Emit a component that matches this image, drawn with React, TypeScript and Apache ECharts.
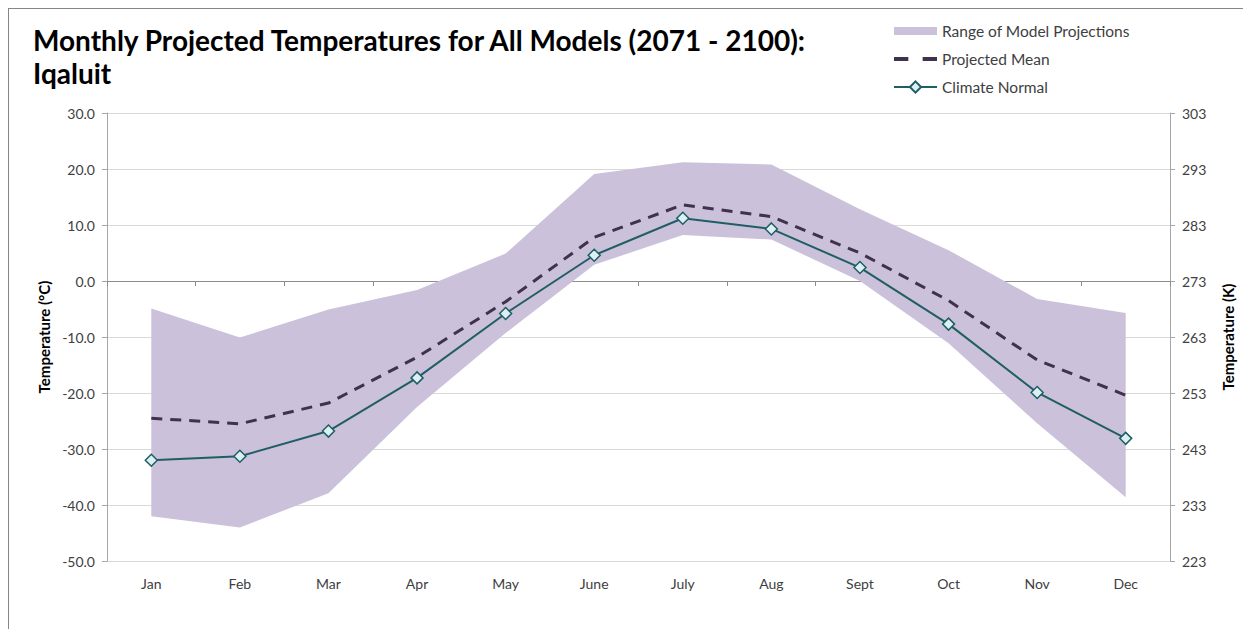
import React, { useEffect, useRef } from "react";
import * as echarts from "echarts";

const months = ["Jan", "Feb", "Mar", "Apr", "May", "June", "July", "Aug", "Sept", "Oct", "Nov", "Dec"];
const rangeLower = [-42.0, -44.0, -37.9, -22.5, -9.3, 2.9, 8.2, 7.4, 0.0, -11.1, -25.4, -38.6];
const rangeUpper = [-4.9, -10.1, -5.1, -1.6, 4.9, 19.1, 21.2, 20.8, 12.8, 5.5, -3.2, -5.7];
const projectedMean = [-24.5, -25.5, -21.8, -13.6, -3.7, 7.8, 13.6, 11.5, 5.0, -3.5, -14.1, -20.4];
const climateNormal = [-32.0, -31.3, -26.8, -17.3, -5.8, 4.6, 11.2, 9.3, 2.4, -7.7, -19.9, -28.1];
const leftTicks = { min: -50, max: 30, interval: 10 };
const kelvinOffset = 273;

const FONT = "Lato";
const TXT = "#404040";

export default function App() {
  const ref = useRef<HTMLDivElement>(null);
  useEffect(() => {
    if (!ref.current) return;
    const chart = echarts.init(ref.current, undefined, { renderer: "svg" });
    const rangeDiff = rangeUpper.map((u, i) => +(u - rangeLower[i]).toFixed(2));
    chart.setOption({
      animation: false,
      textStyle: { fontFamily: FONT },
      title: {
        text: "Monthly Projected Temperatures for All Models (2071 - 2100):\nIqaluit",
        left: 19,
        top: 9,
        textStyle: { fontFamily: FONT, fontSize: 28, fontWeight: "bold", color: "#000", lineHeight: 33 },
      },
      legend: {
        orient: "vertical",
        left: 879,
        top: 9,
        itemWidth: 43,
        itemHeight: 14,
        itemGap: 12,
        textStyle: { fontFamily: FONT, fontSize: 15.5, color: TXT },
        data: [
          { name: "Range of Model Projections", icon: "path://M0,0h43v8h-43z" },
          { name: "Projected Mean", icon: "path://M0,0h12v3.2h-12z M24,0h12v3.2h-12z" },
          { name: "Climate Normal" },
        ],
      },
      grid: { left: 98, top: 104, width: 1063, height: 448 },
      xAxis: [
        {
          type: "category",
          data: months,
          position: "bottom",
          axisLine: { show: false, onZero: false },
          axisTick: { show: false },
          axisLabel: { margin: 15, fontSize: 14, color: TXT, fontFamily: FONT },
        },
        {
          type: "category",
          data: months,
          position: "top",
          axisLine: { show: true, onZero: true, lineStyle: { color: "#8c8c8c", width: 1 } },
          axisTick: { show: true, inside: true, length: 5, lineStyle: { color: "#8c8c8c" } },
          axisLabel: { show: false },
        },
      ],
      yAxis: [
        {
          type: "value",
          min: leftTicks.min,
          max: leftTicks.max,
          interval: leftTicks.interval,
          position: "left",
          name: "Temperature (°C)",
          nameLocation: "middle",
          nameGap: 55,
          nameTextStyle: { fontFamily: FONT, fontSize: 15, fontWeight: "bold", color: "#000" },
          axisLine: { show: true, lineStyle: { color: "#a6a6a6" } },
          axisTick: { show: true, length: 5, lineStyle: { color: "#a6a6a6" } },
          axisLabel: { margin: 12, fontSize: 14, color: TXT, fontFamily: FONT, formatter: (v: number) => v.toFixed(1) },
          splitLine: { show: true, lineStyle: { color: "#d9d9d9", width: 1 } },
        },
        {
          type: "value",
          min: leftTicks.min,
          max: leftTicks.max,
          interval: leftTicks.interval,
          position: "right",
          name: "Temperature (K)",
          nameLocation: "middle",
          nameGap: 50,
          nameTextStyle: { fontFamily: FONT, fontSize: 15, fontWeight: "bold", color: "#000" },
          axisLine: { show: true, lineStyle: { color: "#a6a6a6" } },
          axisTick: { show: true, length: 5, lineStyle: { color: "#a6a6a6" } },
          axisLabel: { margin: 12, fontSize: 14, color: TXT, fontFamily: FONT, formatter: (v: number) => String(v + kelvinOffset) },
          splitLine: { show: false },
        },
      ],
      series: [
        {
          name: "rangeLow",
          type: "line",
          data: rangeLower,
          stack: "range",
          stackStrategy: "all",
          symbol: "none",
          lineStyle: { opacity: 0 },
          silent: true,
          z: 1,
        },
        {
          name: "Range of Model Projections",
          type: "line",
          data: rangeDiff,
          stack: "range",
          stackStrategy: "all",
          symbol: "none",
          color: "#ccc1da",
          itemStyle: { color: "#ccc1da" },
          lineStyle: { width: 0, opacity: 0 },
          areaStyle: { color: "#ccc1da", opacity: 1 },
          silent: true,
          z: 1,
        },
        {
          name: "Projected Mean",
          type: "line",
          data: projectedMean,
          symbol: "none",
          color: "#403151",
          itemStyle: { color: "#403151" },
          lineStyle: { color: "#403151", width: 3, type: [11, 8] },
          z: 3,
        },
        {
          name: "Climate Normal",
          type: "line",
          data: climateNormal,
          symbol: "diamond",
          symbolSize: 12,
          color: "#1f5e66",
          itemStyle: { color: "#dcf0f2", borderColor: "#1f5e66", borderWidth: 1.5 },
          lineStyle: { color: "#1f5e66", width: 2 },
          z: 4,
        },
      ],
    });
    return () => chart.dispose();
  }, []);
  return (
    <div style={{ width: 1242, height: 620, borderLeft: "1px solid #868686", borderTop: "1px solid #868686" }}>
      <div ref={ref} style={{ width: 1242, height: 620 }} />
    </div>
  );
}
